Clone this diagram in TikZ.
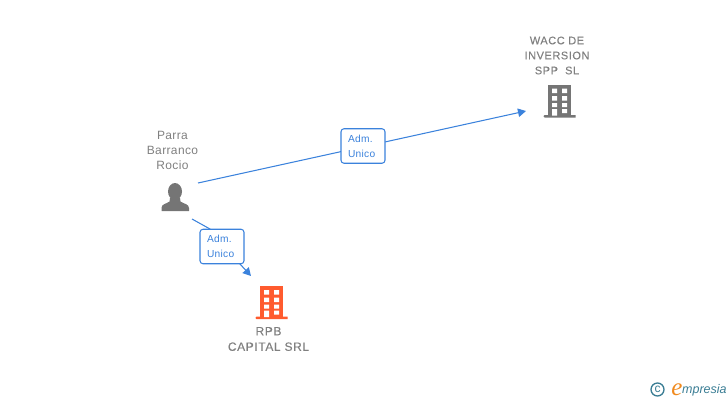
\documentclass[tikz,border=0pt]{standalone}
\usepackage{fontspec}
\setmainfont{Liberation Sans}
\newfontfamily\spacedfont[LetterSpace=3]{Liberation Sans}
\newfontfamily\heavyfont[LetterSpace=5,FakeBold=0.25]{Liberation Sans}
\newfontfamily\logofont[ItalicFont=Liberation Sans Italic]{Liberation Sans}
\newfontfamily\logoe{Liberation Serif}
\usetikzlibrary{arrows.meta}
\definecolor{linkblue}{HTML}{3B82DC}
\definecolor{icongrey}{HTML}{757575}
\definecolor{textgrey}{HTML}{808080}
\definecolor{rpborange}{HTML}{FF5B2E}
\definecolor{logoteal}{HTML}{3A7D94}
\definecolor{logoorange}{HTML}{F08A1E}
\tikzset{
  conn/.style={draw=linkblue,line width=1.05pt},
  connarrow/.style={conn,-{Triangle[length=8pt,width=8.5pt]}},
  rolebox/.style={draw=linkblue,line width=1.05pt,fill=white,rounded corners=3pt,minimum width=44pt,minimum height=34.5pt,inner sep=0pt,text=linkblue},
  entity/.style={align=center,text=textgrey,inner sep=0pt},
}
\newcommand{\roletext}{\parbox{30pt}{\fontsize{10.2}{15}\selectfont\spacedfont Adm.\\Unico}}
% building icon: origin at top-left corner of body, body 23 wide
\newcommand{\buildingicon}[3]{%
  \begin{scope}[shift={(#1,#2)}]
    \fill[#3] (0,0) rectangle (23,31);
    \fill[#3] (-4.5,30.5) -- (27.5,30.5) -- (27.5,33) [rounded corners=1pt] -- (-4.5,33) -- cycle;
    \fill[white] (4,4) rectangle (9,8.5) (14,4) rectangle (19,8.5)
                 (4,11.5) rectangle (9,16) (14,11.5) rectangle (19,16)
                 (4,18.5) rectangle (9,22.5) (14,18.5) rectangle (19,22.5)
                 (4,24.5) rectangle (9,31) (14,24.5) rectangle (19,28.5);
  \end{scope}}
\begin{document}
\begin{tikzpicture}[x=1pt,y=-1pt]
\useasboundingbox (0,0) rectangle (728,400);
% person icon
\fill[icongrey] (175,191.5) ellipse (7 and 8.5);
\fill[icongrey] (170,198) -- (180,198) -- (180.5,201.5) .. controls (184,204) and (189,204) .. (189,208) -- (189,211) -- (161.5,211) -- (161.5,208) .. controls (161.5,204) and (166,204) .. (169.5,201.5) -- cycle;
% buildings
\buildingicon{548}{84.5}{icongrey}
\buildingicon{260}{286}{rpborange}
% labels
\node[entity,font=\fontsize{12}{15}\selectfont\spacedfont] (parra) at (172.5,150) {Parra\\Barranco\\Rocio};
\node[entity,font=\fontsize{11}{15}\selectfont\heavyfont] (wacc) at (557,55.5) {WACC DE\\INVERSION\\SPP\ \ SL};
\node[entity,font=\fontsize{12}{15.5}\selectfont\heavyfont] (rpb) at (268.5,339) {RPB\\CAPITAL SRL};
\coordinate (pa) at (198,183);
\coordinate (pb) at (192,219);
\coordinate (bendin) at (210,229);
\coordinate (bendout) at (240,264);
\coordinate (waccin) at (526,111);
\coordinate (rpbin) at (251,276);
\draw[connarrow] (pa) -- (waccin);
\draw[connarrow] (pb) -- (bendin) -- (bendout) -- (rpbin);
\node[rolebox] (role1) at (363,146) {\roletext};
\node[rolebox] (role2) at (222,246.5) {\roletext};
% logo
\draw[logoteal,line width=1.3pt] (657.5,389.5) circle (6.5);
\node[inner sep=0pt,text=logoteal,font=\fontsize{12}{12}\selectfont\logofont] (copyr) at (657.5,389) {c};
\node[inner sep=0pt,text=logoorange,font=\fontsize{25}{25}\selectfont\logoe\itshape] (loge) at (677,389.5) {e};
\node[inner sep=0pt,anchor=base west,text=logoteal,font=\fontsize{12.5}{13}\selectfont\logofont\itshape] (logm) at (682,393) {mpresia};
\end{tikzpicture}
\end{document}
